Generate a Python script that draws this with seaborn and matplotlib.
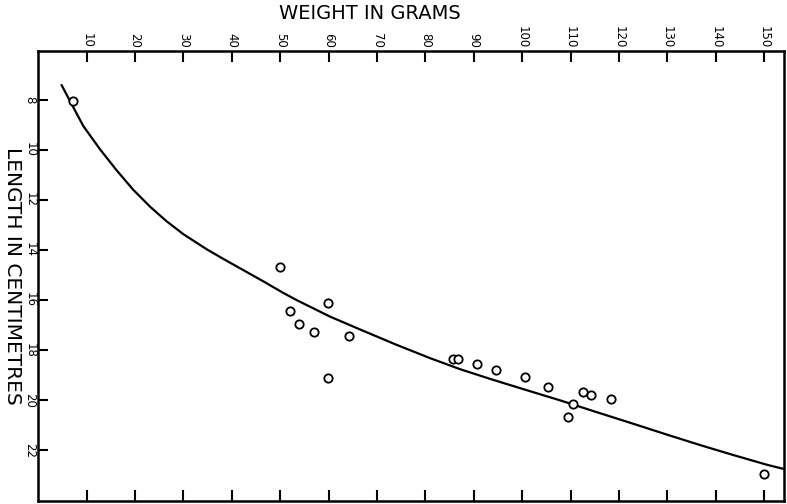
import matplotlib
matplotlib.use("Agg")
import matplotlib.pyplot as plt
import seaborn as sns
import pandas as pd

# observed fish: weight (g) and length (cm)
weight_g = [7.2, 50.0, 59.8, 52.0, 53.9, 57.0, 64.2, 59.8, 85.6, 86.8,
            90.6, 94.6, 100.6, 105.4, 112.5, 114.2, 118.4, 110.4, 109.4, 149.9]
length_cm = [8.05, 14.70, 16.12, 16.45, 16.98, 17.27, 17.46, 19.11, 18.38, 18.38,
             18.58, 18.80, 19.07, 19.47, 19.67, 19.81, 19.95, 20.16, 20.69, 22.97]

# fitted curve
curve_w = [4.8, 6.6, 9.3, 12.8, 16.2, 19.6, 23.1, 26.5, 30.0, 34.8, 38.2, 41.7,
           46.5, 50.6, 53.4, 60.3, 67.2, 74.1, 81.0, 87.2, 94.1, 101.0, 107.8,
           114.7, 123.0, 129.9, 136.8, 143.7, 150.5, 154.2]
curve_l = [7.42, 8.08, 9.06, 10.00, 10.83, 11.60, 12.28, 12.86, 13.38, 13.98, 14.36, 14.74,
           15.26, 15.72, 16.01, 16.67, 17.24, 17.80, 18.33, 18.77, 19.20, 19.61, 20.01,
           20.44, 20.95, 21.38, 21.80, 22.20, 22.58, 22.76]

x_ticks = [10, 20, 30, 40, 50, 60, 70, 80, 90, 100, 110, 120, 130, 140, 150]
y_ticks = [8, 10, 12, 14, 16, 18, 20, 22]

sns.set_style("white")
plt.rcParams['font.family'] = ['DejaVu Sans']

pts = pd.DataFrame({"weight": weight_g, "length": length_cm})
crv = pd.DataFrame({"weight": curve_w, "length": curve_l})

fig = plt.figure(figsize=(7.87, 5.04), dpi=100)
ax = fig.add_axes([0.0487, 0.0065, 0.9481, 0.8929])

sns.lineplot(data=crv, x="weight", y="length", ax=ax, sort=False, estimator=None,
             color="black", lw=1.6)
sns.scatterplot(data=pts, x="weight", y="length", ax=ax, marker="o", s=36,
                facecolor="white", edgecolor="black", linewidth=1.3, zorder=3)

ax.set_xlim(0, 154.2)
ax.set_ylim(24.02, 6.05)

ax.set_xticks(x_ticks)
ax.set_xticklabels([str(v) for v in x_ticks], rotation=-90, fontsize=8.5)
ax.set_yticks(y_ticks)
ax.set_yticklabels([str(v) for v in y_ticks], rotation=-90, fontsize=8.5, va="center")

ax.tick_params(axis="x", which="both", top=True, bottom=True, labeltop=True,
               labelbottom=False, direction="in", length=8, width=1.5, pad=2,
               colors="black")
ax.tick_params(axis="y", which="both", left=True, right=False, labelleft=True,
               direction="in", length=7, width=1.5, pad=1.5, colors="black")

for s in ax.spines.values():
    s.set_visible(True)
    s.set_color("black")
    s.set_linewidth(1.8)

ax.xaxis.set_label_position("top")
ax.set_xlabel("WEIGHT IN GRAMS", fontsize=14, color="black")
ax.xaxis.set_label_coords(0.4445, 1.0816)
ax.xaxis.label.set_va("center")

ax.set_ylabel("LENGTH IN CENTIMETRES", fontsize=14.5, color="black", rotation=-90)
ax.yaxis.set_label_coords(-0.0352, 0.5)
ax.yaxis.label.set_va("center")
ax.yaxis.label.set_ha("center")

fig.savefig("out.png", dpi=100)
